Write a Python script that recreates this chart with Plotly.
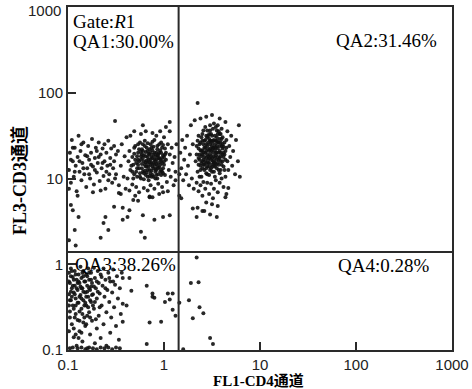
import plotly.graph_objects as go

# ---- data (log10 of channel values) ----
# QA1 main cluster (CD4 low, CD3 high)
qa1_main_log10 = [
    (-0.35,1.10),(-0.33,1.25),(-0.31,1.05),(-0.30,1.38),(-0.29,1.18),(-0.28,1.02),(-0.27,1.30),(-0.26,1.12),(-0.25,1.42),(-0.24,1.22),
    (-0.24,1.00),(-0.23,1.34),(-0.22,1.08),(-0.21,1.27),(-0.20,1.16),(-0.20,1.44),(-0.19,1.04),(-0.18,1.21),(-0.18,1.36),(-0.17,1.10),
    (-0.16,1.29),(-0.16,0.98),(-0.15,1.19),(-0.14,1.40),(-0.14,1.06),(-0.13,1.25),(-0.12,1.14),(-0.12,1.33),(-0.11,1.02),(-0.10,1.22),
    (-0.10,1.45),(-0.09,1.11),(-0.08,1.30),(-0.08,1.17),(-0.07,1.38),(-0.06,1.05),(-0.06,1.24),(-0.05,1.13),(-0.04,1.33),(-0.03,1.20),
    (-0.03,1.42),(-0.02,1.08),(-0.01,1.27),(0.00,1.16),(0.01,1.35),(0.02,1.22),
    (-0.37,1.20),(-0.36,1.32),(-0.34,1.15),(-0.32,1.00),(-0.30,1.22),(-0.28,1.12),(-0.27,1.40),(-0.25,1.06),(-0.23,1.17),(-0.22,1.40),
    (-0.21,0.99),(-0.19,1.31),(-0.18,1.07),(-0.17,1.25),(-0.15,1.34),(-0.15,1.03),(-0.13,1.18),(-0.12,1.43),(-0.11,1.28),(-0.09,1.20),
    (-0.09,1.00),(-0.07,1.14),(-0.05,1.30),(-0.05,1.40),(-0.04,1.08),(-0.02,1.24),(-0.01,1.12),(0.01,1.04),(0.02,1.30),
    (-0.33,1.08),(-0.31,1.29),(-0.26,1.20),(-0.24,1.31),(-0.22,1.24),(-0.20,1.09),(-0.19,1.19),(-0.17,1.41),(-0.16,1.14),(-0.14,1.22),
    (-0.13,1.09),(-0.11,1.37),(-0.10,1.16),(-0.08,1.04),(-0.07,1.27),(-0.06,1.18),(-0.04,1.22),(-0.03,1.10),(-0.01,1.39),(0.00,1.25),
    (-0.32,1.16),(-0.31,1.36),(-0.29,1.08),(-0.28,1.26),(-0.27,1.16),(-0.26,1.34),(-0.25,1.02),(-0.24,1.26),(-0.23,1.12),(-0.22,1.32),
    (-0.21,1.20),(-0.21,1.06),(-0.20,1.38),(-0.19,1.26),(-0.18,1.14),(-0.17,1.32),(-0.17,1.02),(-0.16,1.22),(-0.15,1.10),(-0.15,1.28),
    (-0.14,1.16),(-0.13,1.36),(-0.12,1.04),(-0.12,1.24),(-0.11,1.12),(-0.10,1.30),(-0.09,1.26),(-0.09,1.08),(-0.08,1.22),(-0.07,1.34),
    (-0.07,1.00),(-0.06,1.12),(-0.05,1.24),(-0.04,1.16),(-0.03,1.30),(-0.02,1.18),(-0.02,1.36),(-0.01,1.06),(0.00,1.20),(0.01,1.28),
    (-0.23,1.28),(-0.19,1.14),(-0.14,1.30),(-0.11,1.18),(-0.06,1.28),(-0.27,1.22),(-0.17,1.18),(-0.08,1.10),(-0.13,1.02),(-0.03,1.04),
    (-0.52,1.20),(-0.50,1.05),(-0.48,1.32),(-0.47,0.92),(-0.45,1.15),(-0.44,1.40),(-0.42,1.02),(-0.41,1.26),(-0.40,0.88),(-0.39,1.48),
    (-0.38,1.00),(-0.36,0.86),(-0.35,1.50),(-0.33,0.93),(-0.31,1.55),(-0.29,0.90),(-0.26,0.84),(-0.24,1.52),(-0.21,0.89),(-0.19,1.55),
    (-0.17,0.86),(-0.14,0.92),(-0.12,1.53),(-0.10,0.88),(-0.08,1.50),(-0.06,0.94),(-0.04,1.55),(-0.02,0.90),(0.00,1.48),(0.03,0.96),
    (0.04,1.40),(0.05,1.10),(0.06,1.28),(0.07,1.02),(0.08,1.36),(0.09,1.18),(0.10,0.92),(0.11,1.25),(0.12,1.08),(0.06,1.55),
    (0.04,0.85),(-0.30,0.80),(-0.15,0.79),(-0.45,0.82),(0.02,1.60),(0.13,1.40),(0.12,0.98),(-0.05,0.82),
    (-0.51,1.67),(0.06,1.66),(-0.22,1.62),
]
# QA1 low-CD4 band at left edge
qa1_left_log10 = [
    (-0.99,1.10),(-0.98,1.30),(-0.97,0.95),(-0.96,1.45),(-0.95,1.20),(-0.94,1.02),(-0.93,1.36),(-0.92,1.15),(-0.91,0.85),(-0.90,1.25),
    (-0.89,1.50),(-0.88,1.08),(-0.87,1.32),(-0.86,0.98),(-0.85,1.18),(-0.84,1.42),(-0.83,1.05),(-0.82,1.27),(-0.81,0.90),(-0.80,1.12),
    (-0.79,1.38),(-0.78,1.22),(-0.77,1.00),(-0.76,1.30),(-0.75,1.46),(-0.74,1.14),(-0.73,0.93),(-0.72,1.24),(-0.71,1.36),(-0.70,1.07),
    (-0.69,1.18),(-0.68,1.42),(-0.67,0.97),(-0.66,1.28),(-0.65,1.12),(-0.64,1.35),(-0.63,1.03),(-0.62,1.20),(-0.61,0.88),(-0.60,1.30),
    (-0.59,1.15),(-0.58,1.44),(-0.57,1.05),(-0.56,1.24),(-0.55,1.35),(-0.54,0.95),(-0.53,1.12),(-0.52,1.38),(-0.51,1.00),(-0.50,1.28),
    (-0.97,1.22),(-0.93,1.08),(-0.88,1.20),(-0.84,1.12),(-0.80,1.26),(-0.76,1.16),(-0.72,1.10),(-0.68,1.25),(-0.64,1.18),(-0.60,1.08),
    (-0.56,1.16),(-0.95,1.36),(-0.86,1.40),(-0.78,1.05),(-0.70,1.32),(-0.62,1.40),(-0.58,0.98),(-0.99,0.88),(-0.90,0.80),(-0.74,0.84),
    (-0.66,0.86),
]
# QA1 sparse events below the clusters
qa1_low_log10 = [
    (-0.97,0.69),(-0.95,0.63),(-0.89,0.55),(-0.93,0.40),(-0.61,0.55),(-0.63,0.48),(-0.66,0.31),(-0.58,0.40),(-0.52,0.67),(-0.47,0.83),
    (-0.43,0.52),(-0.38,0.55),(-0.22,0.57),(-0.10,0.52),(-0.01,0.55),(0.06,0.57),(-0.24,0.38),(-0.20,0.31),(-0.32,0.75),(-0.27,0.74),
    (-0.15,0.78),(-0.12,0.78),(-0.01,0.84),(-0.43,0.66),(-0.36,0.63),(-0.99,0.28),(-0.92,0.22),
]
# QA2 double-positive cluster
qa2_log10 = [
    (0.33,1.20),(0.34,1.38),(0.35,1.08),(0.36,1.50),(0.37,1.28),(0.38,1.15),(0.38,1.42),(0.39,1.02),(0.40,1.33),(0.41,1.22),
    (0.41,1.56),(0.42,1.10),(0.43,1.45),(0.43,1.30),(0.44,1.18),(0.45,1.38),(0.45,1.05),(0.46,1.26),(0.47,1.52),(0.47,1.14),
    (0.48,1.35),(0.49,1.22),(0.49,1.44),(0.50,1.08),(0.51,1.30),(0.51,1.58),(0.52,1.18),(0.53,1.40),(0.53,1.02),(0.54,1.27),
    (0.55,1.48),(0.55,1.12),(0.56,1.35),(0.57,1.22),(0.57,1.55),(0.58,1.06),(0.59,1.42),(0.59,1.30),(0.60,1.16),(0.61,1.48),
    (0.62,1.25),(0.62,1.37),(0.63,1.10),(0.64,1.32),(0.65,1.45),(0.66,1.20),
    (0.34,1.28),(0.35,1.44),(0.36,1.16),(0.37,1.02),(0.38,1.33),(0.39,1.48),(0.40,1.12),(0.41,1.40),(0.42,1.25),(0.43,1.60),
    (0.44,1.06),(0.44,1.32),(0.45,1.48),(0.46,1.18),(0.46,1.42),(0.47,1.04),(0.48,1.28),(0.48,1.56),(0.49,1.12),(0.50,1.38),
    (0.50,1.50),(0.51,1.20),(0.52,1.45),(0.52,1.08),(0.53,1.33),(0.54,1.60),(0.54,1.16),(0.55,1.38),(0.56,1.25),(0.56,1.52),
    (0.57,1.10),(0.58,1.32),(0.58,1.46),(0.59,1.20),(0.60,1.38),(0.60,1.58),(0.61,1.28),(0.62,1.14),(0.63,1.42),(0.64,1.22),
    (0.65,1.36),
    (0.36,1.35),(0.37,1.22),(0.39,1.26),(0.40,1.44),(0.42,1.36),(0.42,1.16),(0.44,1.24),(0.46,1.34),(0.47,1.24),(0.48,1.44),
    (0.49,1.32),(0.50,1.24),(0.50,1.16),(0.52,1.36),(0.53,1.24),(0.54,1.44),(0.55,1.30),(0.56,1.18),(0.57,1.42),(0.58,1.24),
    (0.59,1.52),(0.61,1.35),(0.63,1.28),(0.48,1.62),(0.45,1.56),(0.52,1.64),(0.56,1.62),(0.40,1.20),(0.44,1.12),(0.53,1.14),
    (0.36,1.24),(0.37,1.40),(0.38,1.10),(0.39,1.32),(0.40,1.52),(0.41,1.16),(0.41,1.30),(0.42,1.44),(0.43,1.20),(0.44,1.40),
    (0.45,1.14),(0.45,1.28),(0.46,1.50),(0.47,1.32),(0.47,1.18),(0.48,1.40),(0.48,1.10),(0.49,1.26),(0.49,1.52),(0.50,1.34),
    (0.51,1.14),(0.51,1.44),(0.52,1.26),(0.53,1.50),(0.53,1.18),(0.54,1.36),(0.55,1.22),(0.55,1.56),(0.56,1.42),(0.57,1.30),
    (0.57,1.16),(0.58,1.38),(0.59,1.10),(0.59,1.26),(0.60,1.46),(0.61,1.20),(0.61,1.40),(0.62,1.30),(0.43,1.36),(0.46,1.22),
    (0.50,1.42),(0.52,1.20),(0.54,1.30),(0.44,1.50),(0.40,1.28),(0.58,1.52),(0.47,1.46),(0.51,1.36),(0.55,1.44),(0.39,1.18),
    (0.17,1.30),(0.18,1.12),(0.19,1.45),(0.20,0.98),(0.21,1.22),(0.22,1.36),(0.23,1.05),(0.24,1.50),(0.25,1.15),(0.26,0.92),
    (0.27,1.28),(0.28,1.62),(0.29,1.00),(0.30,1.40),(0.31,0.88),(0.32,1.68),(0.34,0.95),(0.36,0.85),(0.38,0.92),(0.40,0.80),
    (0.41,0.96),(0.43,0.88),(0.44,0.72),(0.45,0.95),(0.47,0.82),(0.49,0.94),(0.50,0.70),(0.52,0.88),(0.54,0.98),(0.56,0.84),
    (0.58,0.95),(0.60,1.00),(0.62,0.90),(0.64,1.02),(0.66,1.55),(0.67,1.10),(0.68,1.38),(0.69,1.25),(0.70,1.50),(0.71,1.15),
    (0.72,1.32),(0.74,1.05),(0.75,1.45),(0.77,1.20),(0.79,1.02),(0.78,1.62),(0.38,1.70),(0.44,1.72),(0.50,1.74),(0.58,1.70),
    (0.64,1.66),(0.35,1.88),(0.30,0.65),(0.42,0.62),(0.34,0.55),(0.48,0.58),(0.56,0.68),(0.65,0.82),(0.16,1.05),(0.16,0.80),
    (0.35,0.66),(0.40,0.62),(0.51,0.77),(0.55,0.55),(0.18,0.77),(0.64,0.78),(0.67,0.89),
]
# QA3 double-negative events
qa3_log10 = [
    (-0.99,-0.10),(-0.99,-0.35),(-0.98,-0.55),(-0.98,-0.22),(-0.97,-0.05),(-0.97,-0.42),(-0.96,-0.28),(-0.96,-0.70),(-0.95,-0.15),(-0.95,-0.48),
    (-0.94,-0.33),(-0.94,-0.85),(-0.93,-0.08),(-0.93,-0.25),(-0.92,-0.58),(-0.92,-0.40),(-0.91,-0.18),(-0.91,-0.95),(-0.90,-0.30),(-0.90,-0.65),
    (-0.89,-0.12),(-0.89,-0.45),(-0.88,-0.22),(-0.88,-0.78),(-0.87,-0.36),(-0.87,-0.03),(-0.86,-0.52),(-0.86,-0.16),(-0.85,-0.28),(-0.85,-0.90),
    (-0.84,-0.42),(-0.84,-0.08),(-0.83,-0.62),(-0.83,-0.20),(-0.82,-0.33),(-0.82,-0.72),(-0.81,-0.12),(-0.81,-0.48),(-0.80,-0.25),(-0.80,-0.98),
    (-0.79,-0.38),(-0.79,-0.05),(-0.78,-0.56),(-0.78,-0.18),(-0.77,-0.30),(-0.77,-0.82),(-0.76,-0.44),(-0.76,-0.10),(-0.75,-0.66),(-0.75,-0.22),
    (-0.74,-0.35),(-0.73,-0.04),(-0.73,-0.52),(-0.72,-0.16),(-0.72,-0.92),(-0.71,-0.28),(-0.70,-0.75),(-0.70,-0.40),(-0.69,-0.08),(-0.68,-0.60),
    (-0.68,-0.22),(-0.67,-0.34),(-0.66,-0.86),(-0.66,-0.12),(-0.65,-0.48),(-0.64,-0.25),(-0.63,-0.70),(-0.63,-0.05),(-0.62,-0.38),(-0.61,-0.18),
    (-0.60,-0.56),(-0.60,-0.95),(-0.59,-0.30),(-0.58,-0.10),(-0.57,-0.44),(-0.56,-0.80),(-0.56,-0.20),(-0.55,-0.62),(-0.54,-0.33),(-0.53,-0.06),
    (-0.52,-0.50),(-0.51,-0.24),(-0.50,-0.72),(-0.49,-0.14),(-0.48,-0.40),(-0.47,-0.88),(-0.46,-0.28),(-0.45,-0.58),(-0.44,-0.10),(-0.43,-0.46),
    (-0.98,-0.98),(-0.95,-0.97),(-0.90,-0.98),(-0.86,-0.97),(-0.82,-0.99),(-0.78,-0.97),(-0.74,-0.98),(-0.70,-0.99),(-0.66,-0.97),(-0.62,-0.98),
    (-0.58,-0.97),(-0.54,-0.99),(-0.50,-0.97),(-0.46,-0.98),
    (-0.97,-0.32),(-0.94,-0.18),(-0.92,-0.48),(-0.90,-0.22),(-0.88,-0.38),(-0.86,-0.28),(-0.84,-0.14),(-0.82,-0.45),(-0.80,-0.32),(-0.78,-0.10),
    (-0.76,-0.26),(-0.74,-0.48),(-0.98,-0.62),(-0.94,-0.75),(-0.89,-0.86),(-0.84,-0.68),(-0.80,-0.60),(-0.71,-0.64),(-0.65,-0.15),(-0.61,-0.28),
    (-0.57,-0.16),(-0.53,-0.20),
    (-0.99,-0.20),(-0.98,-0.42),(-0.97,-0.14),(-0.96,-0.38),(-0.95,-0.25),(-0.94,-0.52),(-0.93,-0.35),(-0.92,-0.12),(-0.91,-0.28),(-0.90,-0.45),
    (-0.89,-0.20),(-0.88,-0.55),(-0.87,-0.26),(-0.86,-0.40),(-0.85,-0.10),(-0.84,-0.32),(-0.83,-0.48),(-0.82,-0.20),(-0.81,-0.38),(-0.80,-0.14),
    (-0.79,-0.50),(-0.78,-0.28),(-0.77,-0.42),(-0.76,-0.18),(-0.75,-0.36),(-0.73,-0.26),(-0.72,-0.44),(-0.70,-0.20),(-0.69,-0.32),(-0.67,-0.50),
    (-0.99,-0.48),(-0.96,-0.08),(-0.93,-0.62),(-0.88,-0.66),(-0.85,-0.58),(-0.81,-0.70),(-0.77,-0.62),(-0.99,-0.78),(-0.92,-0.82),(-0.86,-0.80),
    (-0.43,-0.16),(-0.12,-0.34),(-0.10,-0.39),(0.04,-0.34),(0.09,-0.34),(0.06,-0.41),(0.01,-0.44),(0.09,-0.53),(0.12,-0.60),(-0.03,-0.67),
    (-0.15,-0.68),(-0.36,-0.16),(-0.34,-0.31),(-0.18,-0.25),(-0.12,-0.38),(-0.18,-0.93),(-0.39,-0.48),(-0.43,-0.67),
]
# QA4 events (CD4+ CD3-)
qa4_log10 = [
    (0.28,-0.22),(0.36,-0.21),(0.26,-0.42),(0.16,-0.45),(0.37,-0.50),(0.41,-0.57),(0.30,-0.63),(0.48,-0.86),(0.51,-0.93),(0.34,0.08),
    (0.20,-0.99),
]

gate_x = 1.42   # CD4 quadrant boundary
gate_y = 1.39   # CD3 quadrant boundary
tick_vals = [0.1, 1, 10, 100, 1000]
x_tick_text = ["0.1", "1", "10", "100", "1000"]
y_tick_text = ["0.1", "1", "10", "100", ""]   # top "1000" drawn as a label below
y_top_label = "1000"
quad_labels = ["QA1:30.00%", "QA2:31.46%", "QA3:38.26%", "QA4:0.28%"]
gate_label = "Gate:<i>R</i>1"
x_title = "FL1-CD4通道"
y_title = "FL3-CD3通道"

all_pts = qa1_main_log10 + qa1_left_log10 + qa1_low_log10 + qa2_log10 + qa3_log10 + qa4_log10
xs = [10 ** p[0] for p in all_pts]
ys = [10 ** p[1] for p in all_pts]

fig = go.Figure()
fig.add_trace(go.Scatter(
    x=xs, y=ys, mode="markers",
    marker=dict(size=4, color="#111111", opacity=0.9, line=dict(width=0)),
    hoverinfo="skip", showlegend=False,
))

line_col = "#2a2a2a"
fig.add_shape(type="line", xref="x", yref="paper", x0=gate_x, x1=gate_x, y0=0, y1=1,
              line=dict(color=line_col, width=2))
fig.add_shape(type="line", xref="paper", yref="y", x0=0, x1=1, y0=gate_y, y1=gate_y,
              line=dict(color=line_col, width=2))

serif = "Liberation Serif, Times New Roman, serif"
ann_font = dict(family=serif, size=19, color="#000")
anns = [
    dict(text=gate_label, x=0.008, y=0.957, xanchor="left", yanchor="middle"),
    dict(text=quad_labels[0], x=0.008, y=0.899, xanchor="left", yanchor="middle"),
    dict(text=quad_labels[1], x=0.965, y=0.902, xanchor="right", yanchor="middle"),
    dict(text=quad_labels[2], x=0.012, y=0.248, xanchor="left", yanchor="middle"),
    dict(text=quad_labels[3], x=0.945, y=0.245, xanchor="right", yanchor="middle"),
]
for a in anns:
    fig.add_annotation(xref="paper", yref="paper", showarrow=False, font=ann_font, **a)

tick_font = dict(family="Liberation Sans, Arial, sans-serif", size=15, color="#222")
fig.add_annotation(xref="paper", yref="y", x=0, y=3, xshift=-5, yshift=-3, text=y_top_label,
                   showarrow=False, xanchor="right", yanchor="middle", font=tick_font)

title_family = "Liberation Serif, Noto Sans CJK SC, serif"
fig.add_annotation(xref="paper", yref="paper", x=0.497, y=-0.0875, text="<b>" + x_title + "</b>",
                   showarrow=False, xanchor="center", yanchor="middle", borderpad=0,
                   font=dict(family=title_family, size=15, color="#000"))
fig.add_annotation(xref="paper", yref="paper", x=-0.125, y=0.493, text="<b>" + y_title + "</b>",
                   showarrow=False, xanchor="center", yanchor="middle", textangle=-90,
                   font=dict(family=title_family, size=18, color="#000"))

axis_common = dict(
    type="log", range=[-1, 3], tickvals=tick_vals,
    ticks="inside", ticklen=8, tickwidth=1.5, tickcolor=line_col,
    showline=True, linecolor=line_col, linewidth=2, mirror=True,
    showgrid=False, zeroline=False, automargin=False,
    tickfont=tick_font,
)
fig.update_xaxes(ticktext=x_tick_text, **axis_common)
fig.update_yaxes(ticktext=y_tick_text, **axis_common)

fig.update_layout(
    width=472, height=389,
    margin=dict(l=68, r=20, t=7, b=39),
    paper_bgcolor="white", plot_bgcolor="white",
    showlegend=False,
)
fig.write_html("out.html")
